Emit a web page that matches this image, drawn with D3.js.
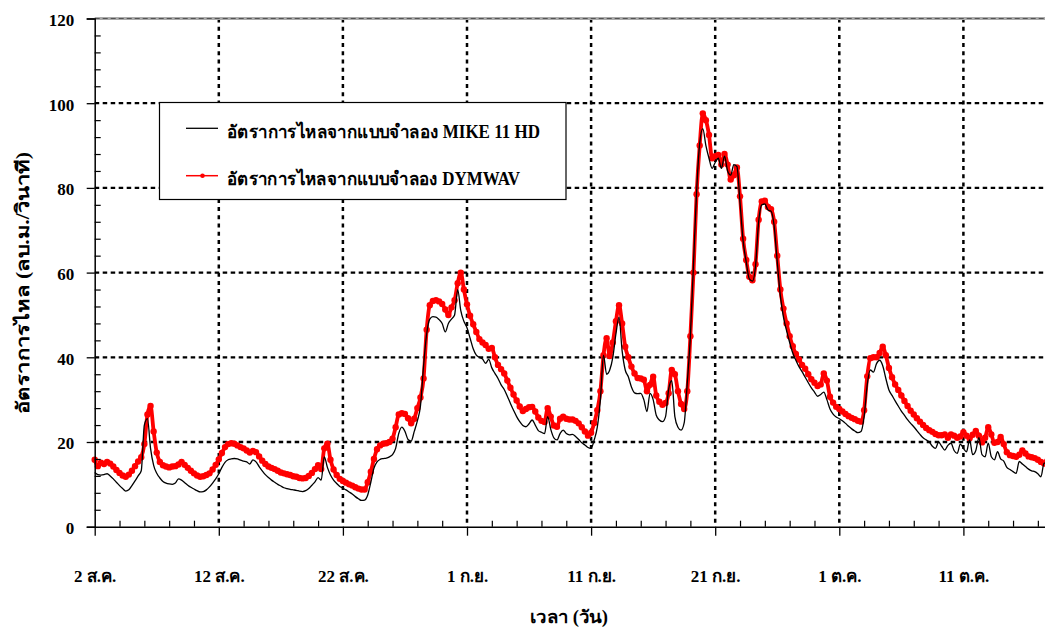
<!DOCTYPE html>
<html>
<head>
<meta charset="utf-8">
<script src="https://cdn.jsdelivr.net/npm/d3@7"></script>
<style>
  body { margin: 0; background: #fff; }
  svg { display: block; }
  text { font-family: "Liberation Serif", "Times New Roman", serif; font-weight: bold; fill: #000; }
</style>
</head>
<body>
<svg id="chart" width="1045" height="630"></svg>
<script>
// Discharge (m³/s), one reading every 6 hours from 2 Aug onwards
const dymwavFlow = [
  15.8, 14.3, 15.1, 14.8,  15.3, 14.9, 14.2, 13.4,  12.7, 12.1, 11.8, 12.3,  13.2, 14.3, 15.4, 16.4,
  19.5, 26.5, 28.5, 22.5,  17.5, 15.3, 14.5, 14.2,  14.0, 14.2, 14.3, 14.7,  15.3, 14.6, 13.9, 13.2,
  12.6, 12.1, 11.8, 11.9,  12.2, 12.6, 13.5, 14.6,  15.9, 17.4, 18.8, 19.5,  19.7, 19.6, 19.2, 18.8,
  18.5, 18.0, 17.5, 17.9,  17.6, 16.6, 15.6, 14.8,  14.2, 13.9, 13.6, 13.2,  12.8, 12.6, 12.4, 12.2,
  11.9, 11.8, 11.5, 11.4,  11.5, 12.0, 12.7, 13.6,  14.5, 13.6, 18.5, 19.6,  15.8, 13.5, 12.2, 11.3,
  10.8, 10.4, 10.0, 9.7,   9.3, 9.0, 8.8, 8.8,      10.5, 13.0, 16.0, 18.3,  19.2, 19.6, 19.7, 20.0,
  20.8, 23.5, 26.5, 26.8,  26.6, 25.6, 24.4, 25.5,  28.0, 30.5, 35.0, 46.5,  52.3, 53.3, 53.5, 53.2,
  52.6, 51.3, 50.0, 51.8,  53.5, 57.5, 60.0, 56.0,  52.5, 49.8, 47.8, 46.0,  44.3, 43.5, 42.9, 42.0,
  42.2, 40.0, 38.2, 37.2,  36.2, 34.5, 32.8, 31.2,  29.8, 28.4, 27.3, 27.8,  28.2, 28.3, 27.2, 25.8,
  25.0, 24.7, 28.0, 26.0,  23.9, 23.6, 25.5, 26.0,  25.5, 25.3, 25.3, 25.0,  24.4, 23.5, 22.5, 21.5,
  22.2, 24.5, 27.5, 32.0,  40.5, 44.5, 40.3, 43.5,  48.5, 52.3, 48.0, 42.5,  40.0, 37.8, 36.2, 35.1,
  35.0, 34.7, 32.0, 33.5,  35.4, 31.0, 29.5, 28.8,  29.2, 31.5, 37.0, 36.0,  32.0, 29.0, 27.8, 32.0,
  45.0, 60.0, 78.5, 90.0,  97.6, 96.0, 92.5, 87.0,  87.5, 87.8, 85.5, 88.0,  85.5, 82.0, 83.0, 84.8,
  78.0, 68.0, 63.0, 59.0,  58.2, 62.0, 72.5, 76.8,  77.0, 75.5, 75.0, 72.0,  64.0, 56.0, 51.5, 48.0,
  45.0, 42.6, 40.8, 39.5,  38.2, 37.3, 36.0, 34.8,  34.0, 33.2, 33.6, 36.2,  34.5, 30.7, 29.3, 28.3,
  27.8, 27.2, 26.6, 26.1,  25.7, 25.4, 25.0, 24.8,  27.5, 35.5, 39.8, 40.0,  40.0, 41.0, 42.5, 40.5,
  37.5, 35.3, 33.6, 32.3,  31.0, 29.7, 28.5, 27.4,  26.5, 25.6, 24.8, 24.0,  23.3, 22.8, 22.4, 21.9,
  21.6, 21.6, 21.8, 21.0,  21.8, 21.5, 21.0, 21.3,  22.3, 21.5, 20.9, 21.7,  22.6, 21.5, 19.9, 21.0,
  23.5, 21.8, 19.8, 20.0,  21.2, 19.5, 17.6, 16.9,  16.7, 16.5, 17.0, 18.0,  17.3, 16.6, 16.4, 16.2,
  15.8, 15.3, 14.9, 15.5,  15.5
];

const mike11Flow = [
  12.8, 12.3, 12.2, 12.3,  12.5, 12.0, 11.3, 10.5,  9.7, 9.0, 8.4, 8.7,      9.7, 10.8, 12.0, 13.2,
  24.0, 25.5, 18.5, 14.5,  12.6, 11.5, 10.7, 10.3,  10.1, 10.0, 10.3, 11.3,  11.0, 10.4, 9.8, 9.3,
  8.9, 8.5, 8.2, 8.3,      8.7, 9.4, 10.3, 11.3,    12.5, 14.0, 15.2, 15.8,  16.0, 16.1, 16.0, 15.7,
  15.5, 15.3, 14.8, 15.8,  15.3, 14.2, 13.2, 12.3,  11.6, 11.0, 10.5, 10.0,  9.6, 9.2, 9.0, 8.8,
  8.7, 8.6, 8.4, 8.3,      8.5, 9.0, 9.8, 10.6,     11.6, 11.0, 16.5, 14.0,  12.2, 11.0, 10.2, 9.5,
  9.1, 8.7, 8.2, 7.7,      7.1, 6.6, 6.2, 6.3,      7.5, 10.5, 13.8, 15.3,   15.9, 16.1, 16.2, 16.5,
  17.0, 18.5, 22.0, 23.5,  22.5, 20.6, 20.2, 22.5,  25.0, 28.5, 38.0, 45.5,  49.0, 49.6, 49.5, 48.9,
  48.0, 46.0, 48.0, 49.0,  50.0, 56.0, 51.0, 48.5,  47.0, 44.5, 42.0, 40.5,  40.0, 39.6, 38.6, 39.5,
  37.5, 36.2, 35.0, 33.5,  32.4, 30.8, 29.1, 27.5,  26.0, 24.8, 23.9, 23.6,  24.3, 25.2, 24.0, 22.7,
  22.3, 22.0, 26.0, 23.0,  21.0, 20.5, 22.0, 22.8,  22.0, 21.7, 21.8, 21.3,  20.6, 19.8, 19.3, 18.7,
  18.5, 20.5, 23.5, 30.0,  40.5, 36.0, 37.0, 40.0,  45.5, 49.5, 41.5, 37.0,  35.4, 33.0, 31.6, 31.4,
  31.5, 30.0, 27.2, 31.5,  30.0, 26.3, 25.2, 24.8,  26.0, 32.5, 34.5, 26.0,  23.5, 22.8, 24.5, 34.0,
  45.0, 62.0, 79.0, 90.5,  94.0, 90.0, 87.0, 84.6,  86.0, 87.0, 84.6, 87.5,  84.0, 83.0, 85.5, 85.0,
  76.5, 67.5, 62.5, 58.5,  58.0, 61.5, 72.0, 76.0,  76.2, 74.8, 74.5, 71.0,  62.5, 54.5, 49.5, 46.3,
  43.5, 41.0, 39.3, 37.8,  36.6, 35.3, 34.0, 32.8,  31.8, 30.8, 31.2, 31.8,  30.0, 27.8, 26.6, 25.9,
  25.5, 25.0, 24.4, 23.7,  23.1, 22.6, 22.2, 22.5,  26.0, 33.5, 37.0, 36.5,  38.5, 39.3, 38.0, 35.0,
  32.3, 31.0, 29.7, 28.5,  27.3, 26.3, 25.3, 24.4,  23.6, 22.7, 21.8, 21.0,  20.5, 20.0, 19.0, 18.5,
  20.0, 19.0, 18.1, 19.2,  19.7, 18.0, 17.3, 19.5,  18.5, 17.7, 20.5, 17.0,  18.0, 21.0, 17.0, 16.5,
  19.7, 16.5, 15.8, 17.7,  16.0, 15.5, 14.0, 13.5,  13.0, 12.6, 15.4, 14.8,  14.2, 13.6, 13.2, 13.0,
  12.5, 11.8, 15.0, 15.0,  15.0
];

// Date labels, one every ten days
const tickDays = [0, 10, 20, 30, 40, 50, 60, 70];
const tickLabels = ["2 ส.ค.", "12 ส.ค.", "22 ส.ค.", "1 ก.ย.", "11 ก.ย.", "21 ก.ย.", "1 ต.ค.", "11 ต.ค."];
const yTicks = [0, 20, 40, 60, 80, 100, 120];

const seriesNames = [
  "อัตราการไหลจากแบบจำลอง MIKE 11 HD",
  "อัตราการไหลจากแบบจำลอง DYMWAV"
];
const xTitle = "เวลา (วัน)";
const yTitle = "อัตราการไหล (ลบ.ม./วินาที)";

const hoursPerStep = 6;
const dayOf = i => i * hoursPerStep / 24;

// ---- layout ----
const svg = d3.select("#chart");
const plotLeft = 94.7, plotBottom = 526.7, plotTop = 18.5;
const x = d3.scaleLinear().domain([0, 77]).range([plotLeft, plotLeft + 77 * 12.41]);
const y = d3.scaleLinear().domain([0, 120]).range([plotBottom, plotTop]);
const plotRight = x(77);

svg.append("rect").attr("width", 1045).attr("height", 630).attr("fill", "#fff");

// ---- grid ----
const grid = svg.append("g");
grid.selectAll("line.h").data(yTicks.filter(v => v > 0 && v < 120)).join("line")
  .attr("x1", plotLeft).attr("x2", plotRight)
  .attr("y1", d => y(d)).attr("y2", d => y(d))
  .attr("stroke", "#000").attr("stroke-width", 2.3).attr("stroke-dasharray", "4.5,3.5");
grid.selectAll("line.v").data(tickDays.filter(d => d > 0)).join("line")
  .attr("x1", d => x(d)).attr("x2", d => x(d))
  .attr("y1", plotTop).attr("y2", plotBottom)
  .attr("stroke", "#000").attr("stroke-width", 2.5).attr("stroke-dasharray", "4,4.2");
// top frame line
svg.append("line").attr("x1", plotLeft).attr("x2", plotRight).attr("y1", plotTop).attr("y2", plotTop)
  .attr("stroke", "#aaa").attr("stroke-width", 3);
svg.append("line").attr("x1", plotLeft).attr("x2", plotRight).attr("y1", plotTop).attr("y2", plotTop)
  .attr("stroke", "#555").attr("stroke-width", 1.2).attr("stroke-dasharray", "5,3");

// ---- series ----
const line = d3.line().x((d, i) => x(dayOf(i))).y(d => y(d)).curve(d3.curveMonotoneX);
const plot = svg.append("g");
plot.append("path").datum(dymwavFlow).attr("d", line)
  .attr("fill", "none").attr("stroke", "#ff0000").attr("stroke-width", 3.8).attr("stroke-linejoin", "round");
plot.selectAll("circle.dym").data(dymwavFlow).join("circle")
  .attr("class", "dym")
  .attr("cx", (d, i) => x(dayOf(i))).attr("cy", d => y(d)).attr("r", 3.2)
  .attr("fill", "#ff0000");
plot.append("path").datum(mike11Flow).attr("d", line)
  .attr("fill", "none").attr("stroke", "#000").attr("stroke-width", 1.3).attr("stroke-linejoin", "round");

// ---- axes ----
const yAxis = d3.axisLeft(y).tickValues(yTicks).tickSize(8).tickPadding(12.5);
const gy = svg.append("g").attr("transform", `translate(${plotLeft},0)`).call(yAxis);
gy.select(".domain").attr("stroke-width", 1.5);
gy.selectAll(".tick line").attr("stroke-width", 1.3);
gy.selectAll("text").attr("font-size", 17).attr("dy", "0.4em")
  .style("font-family", '"Liberation Serif", serif').style("font-weight", "bold");

const yMinor = d3.axisLeft(y).tickValues(d3.range(0, 121, 4).filter(v => v % 20 !== 0))
  .tickSizeInner(-6).tickSizeOuter(0).tickFormat("");
svg.append("g").attr("transform", `translate(${plotLeft},0)`).call(yMinor)
  .call(g => g.select(".domain").remove())
  .selectAll("line").attr("stroke-width", 1.2);

const xAxis = d3.axisBottom(x).tickValues(tickDays).tickSize(9).tickSizeOuter(0)
  .tickFormat((d, i) => tickLabels[i]);
const gx = svg.append("g").attr("transform", `translate(0,${plotBottom})`).call(xAxis);
gx.select(".domain").attr("stroke-width", 1.5);
gx.selectAll(".tick line").attr("stroke-width", 1.3);
gx.selectAll("text").attr("font-size", 17).attr("y", 55.6).attr("dy", 0)
  .style("font-family", '"Liberation Serif", serif').style("font-weight", "bold");

const xMinor = d3.axisBottom(x).tickValues(d3.range(2, 77, 2).filter(v => v % 10 !== 0))
  .tickSizeInner(-6).tickSizeOuter(0).tickFormat("");
svg.append("g").attr("transform", `translate(0,${plotBottom})`).call(xMinor)
  .call(g => g.select(".domain").remove())
  .selectAll("line").attr("stroke-width", 1.2);

// ---- titles ----
svg.append("text").attr("x", 569).attr("y", 623).attr("text-anchor", "middle")
  .attr("font-size", 18).attr("textLength", 78).attr("lengthAdjust", "spacingAndGlyphs").text(xTitle);
svg.append("text").attr("transform", "translate(29,283) rotate(-90)")
  .attr("text-anchor", "middle").attr("font-size", 18)
  .attr("textLength", 262).attr("lengthAdjust", "spacingAndGlyphs").text(yTitle);

// ---- legend ----
const lg = svg.append("g");
lg.append("rect").attr("x", 159.5).attr("y", 102.5).attr("width", 406.5).attr("height", 97)
  .attr("fill", "#fff").attr("stroke", "#000").attr("stroke-width", 1.2);
const rows = [
  { color: "#000", w: 1.3, dot: false, yy: 128.3, len: 313 },
  { color: "#ff0000", w: 1.5, dot: true, yy: 175.7, len: 293 }
];
rows.forEach((r, i) => {
  lg.append("line").attr("x1", 186).attr("x2", 218).attr("y1", r.yy).attr("y2", r.yy)
    .attr("stroke", r.color).attr("stroke-width", r.w);
  if (r.dot) lg.append("circle").attr("cx", 202.5).attr("cy", r.yy).attr("r", 2.3).attr("fill", r.color);
  lg.append("text").attr("x", 227).attr("y", r.yy + 9.5).attr("font-size", 18)
    .attr("textLength", r.len).attr("lengthAdjust", "spacingAndGlyphs").text(seriesNames[i]);
});
</script>
</body>
</html>
